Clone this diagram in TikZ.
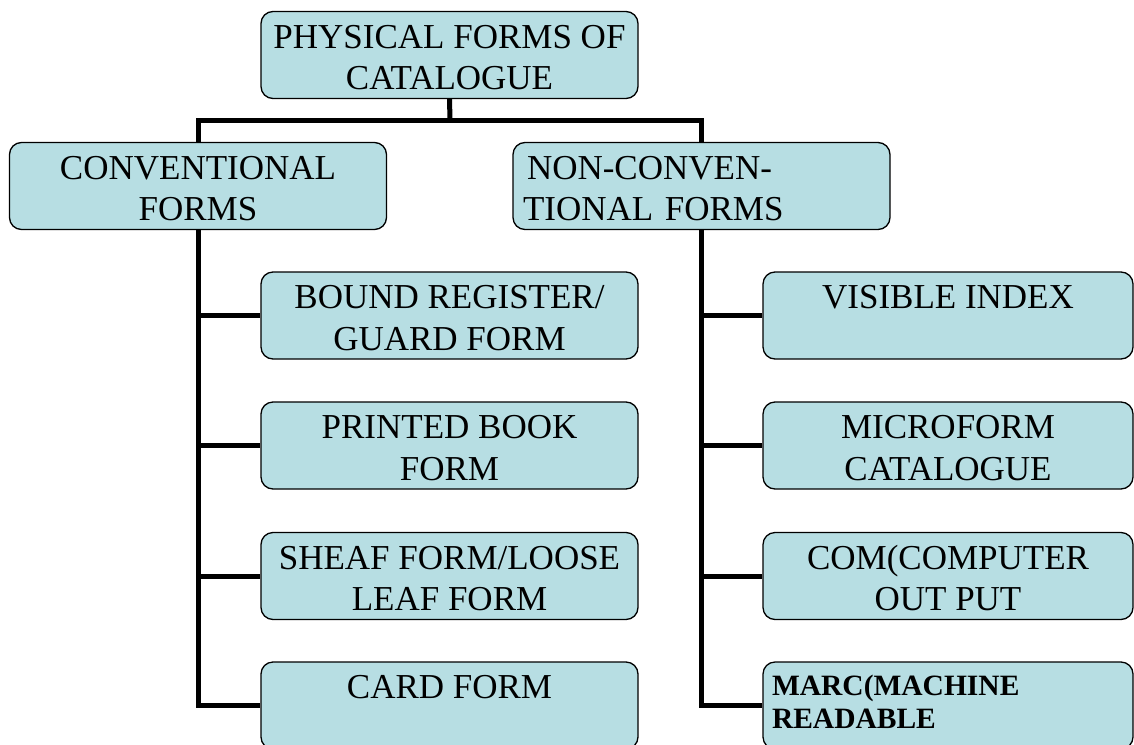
\documentclass[tikz,border=0pt]{standalone}
\usepackage{fontspec}
\setmainfont{Liberation Serif}
\definecolor{boxfill}{RGB}{183,222,227}
\newcommand\toprule{\rule{0pt}{30pt}}
\newcommand\botrule{\rule[-2.5pt]{0pt}{0pt}}
\begin{document}
\begin{tikzpicture}[x=1pt,y=-1pt,
  box/.style={draw=black,line width=1.3pt,fill=boxfill,rounded corners=12pt,
    minimum height=87pt,inner ysep=0pt,font=\fontsize{35}{41.5}\selectfont},
  wbox/.style={box,minimum width=377pt,align=center,inner xsep=0pt},
  rbox/.style={box,minimum width=370pt,align=center,inner xsep=0pt},
  conn/.style={line width=5pt,line join=miter,draw=black}]
\useasboundingbox (0,0) rectangle (1134,744);

\coordinate (bus) at (450,120);

\node[wbox] (top) at (449.5,55) {\toprule PHYSICAL FORMS OF\\CATALOGUE\botrule};
\node[wbox] (conv) at (198,186) {\toprule CONVENTIONAL\\FORMS\botrule};
\node[box,text width=357pt,inner xsep=10pt,align=left] (nonconv) at (701.5,186)
  {\toprule\hspace{4pt}NON-CONVEN-\\TIONAL FORMS\botrule};

\node[wbox] (bound) at (449.5,315.5) {\toprule BOUND REGISTER/\\GUARD FORM\botrule};
\node[wbox] (printed) at (449.5,445.5) {\toprule PRINTED BOOK\\FORM\botrule};
\node[wbox] (sheaf) at (449.5,576) {\toprule SHEAF FORM/LOOSE\\LEAF FORM\botrule};
\node[wbox] (card) at (449.5,705.5) {\toprule CARD FORM\\\botrule};

\node[rbox] (visible) at (948,315.5) {\toprule VISIBLE INDEX\\\botrule};
\node[rbox] (micro) at (948,445.5) {\toprule MICROFORM\\CATALOGUE\botrule};
\node[rbox] (com) at (948,576) {\toprule COM(COMPUTER\\OUT PUT\botrule};
\node[box,text width=352pt,inner xsep=9pt,align=left,
  font=\bfseries\fontsize{29.5}{33}\selectfont] (marc) at (948,705.5)
  {\rule{0pt}{24pt}MARC(MACHINE\\READABLE\rule[-11pt]{0pt}{0pt}};

\draw[conn] (top.south) -- (bus);
\draw[conn] (conv.north) |- (bus) -| (nonconv.north);
\draw[conn] (conv.south) |- (card.west);
\draw[conn] (conv.south |- bound.west) -- (bound.west);
\draw[conn] (conv.south |- printed.west) -- (printed.west);
\draw[conn] (conv.south |- sheaf.west) -- (sheaf.west);
\draw[conn] (nonconv.south) |- (marc.west);
\draw[conn] (nonconv.south |- visible.west) -- (visible.west);
\draw[conn] (nonconv.south |- micro.west) -- (micro.west);
\draw[conn] (nonconv.south |- com.west) -- (com.west);
\end{tikzpicture}
\end{document}
